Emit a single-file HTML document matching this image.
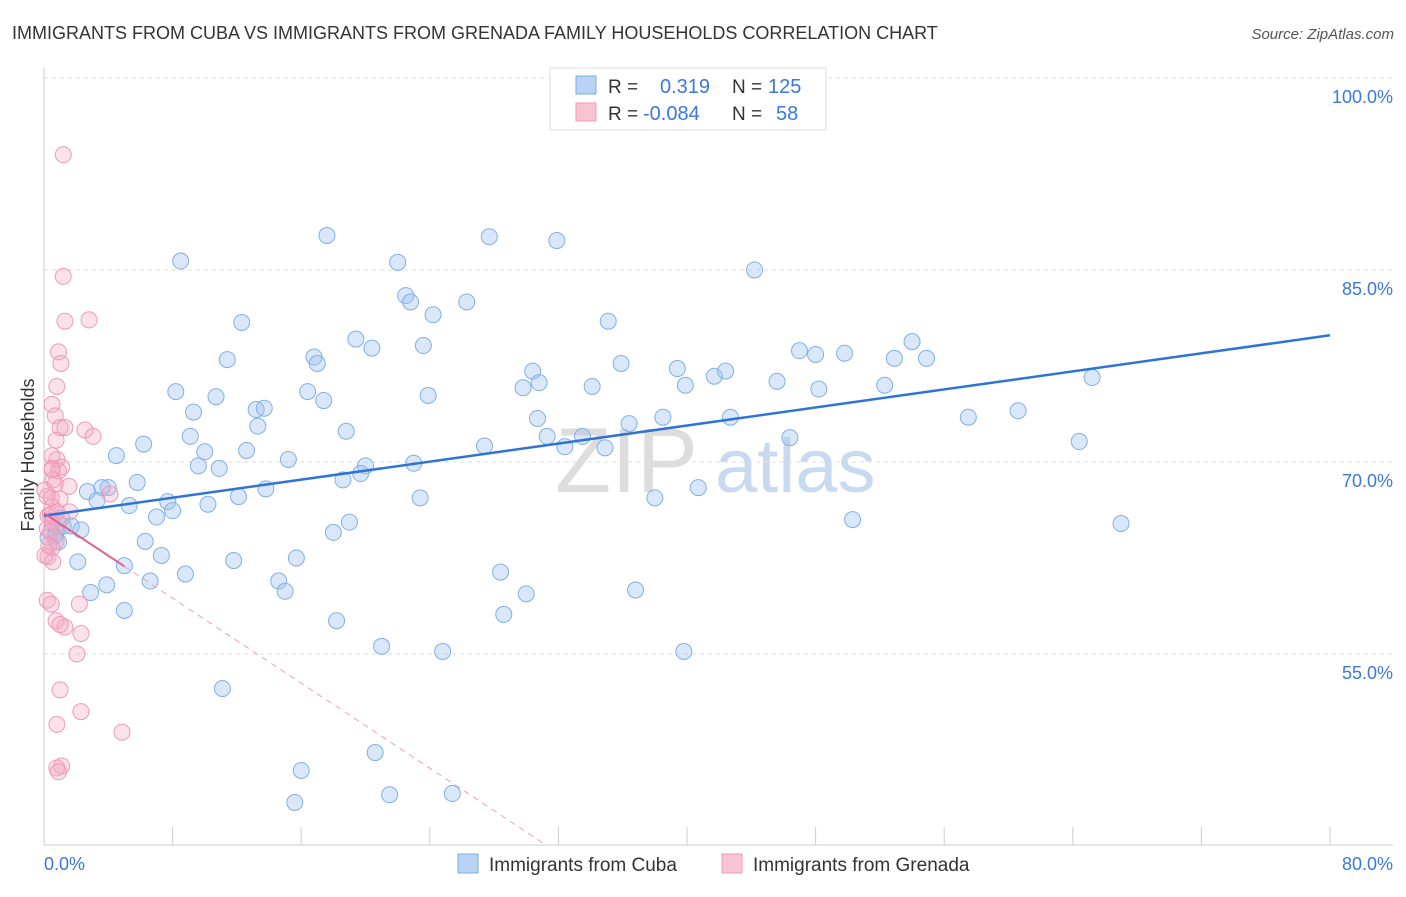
<!DOCTYPE html>
<html><head><meta charset="utf-8"><style>
body{margin:0;background:#fff;font-family:"Liberation Sans",sans-serif;}
svg text{font-family:"Liberation Sans",sans-serif;}
</style></head><body>
<svg id="chart" width="1406" height="892" viewBox="0 0 1406 892">
<text x="12" y="39" font-size="18" fill="#333">IMMIGRANTS FROM CUBA VS IMMIGRANTS FROM GRENADA FAMILY HOUSEHOLDS CORRELATION CHART</text>
<text x="1394" y="39" font-size="15" fill="#555" text-anchor="end" font-style="italic">Source: ZipAtlas.com</text>
<g>
<text x="555" y="492" font-size="92" fill="#ddd" font-family="Liberation Serif">ZIP</text>
<text x="715" y="492" font-size="76" fill="#c8daf0">atlas</text>
</g>
<g id="grid"></g>
<g id="axes"></g>
<text x="34" y="455" font-size="18" fill="#333" transform="rotate(-90 34 455)" text-anchor="middle">Family Households</text>
<g id="pts"></g>
<g id="trends"></g>
<g>
<rect x="550" y="68" width="276" height="62" fill="#fff" stroke="#ddd"/>
<rect x="576" y="76" width="20" height="18" fill="#b8d3f3" stroke="#7baee6"/>
<rect x="576" y="103" width="20" height="18" fill="#f8c4d4" stroke="#ef9ab6"/>
<text x="608" y="93" font-size="19" fill="#333">R =</text>
<text x="660" y="93" font-size="20" fill="#3b78d8">0.319</text>
<text x="732" y="93" font-size="19" fill="#333">N =</text>
<text x="768" y="93" font-size="20" fill="#3b78d8">125</text>
<text x="608" y="120" font-size="19" fill="#333">R =</text>
<text x="643" y="120" font-size="20" fill="#3b78d8">-0.084</text>
<text x="732" y="120" font-size="19" fill="#333">N =</text>
<text x="776" y="120" font-size="20" fill="#3b78d8">58</text>
</g>
<g>
<rect x="458" y="854" width="20" height="19" fill="#b8d3f3" stroke="#7baee6"/>
<text x="489" y="871" font-size="19" fill="#333">Immigrants from Cuba</text>
<rect x="722" y="854" width="20" height="19" fill="#f8c4d4" stroke="#ef9ab6"/>
<text x="753" y="871" font-size="19" fill="#333">Immigrants from Grenada</text>
</g>
</svg>
<script>
const cubaX=[8.5,17.6,27.7,31.9,22.0,44.2,22.5,22.8,26.3,24.2,12.3,35.1,19.4,20.4,23.6,16.8,17.0,11.4,35.9,47.0,48.0,49.8,54.0,52.9,54.9,39.4,30.4,30.8,29.8,34.1,39.9,41.7,42.4,45.6,48.2,52.3,65.2,8.2,10.7,16.4,17.4,23.9,9.3,13.2,13.7,13.3,30.7,36.4,38.5,42.7,57.5,60.6,9.1,10.0,12.6,18.8,27.4,31.3,32.4,33.5,34.9,46.4,64.4,6.2,4.5,9.6,10.9,15.2,20.0,19.7,18.6,23.0,4.0,5.8,3.6,2.7,3.3,5.3,7.7,12.1,13.8,10.2,23.4,38.0,40.7,7.0,8.0,19.0,18.0,50.3,67.0,1.1,1.2,1.7,0.7,0.9,2.3,6.3,7.3,5.0,2.1,11.8,15.7,8.8,6.6,14.6,15.0,3.9,2.9,28.4,30.0,36.8,5.0,18.2,28.6,21.0,24.8,39.8,11.1,20.6,16.0,15.6,21.5,25.4,0.25,0.5,0.75];
const cubaY=[85.7,87.7,87.6,87.3,85.6,85.0,83.0,82.5,82.5,81.5,80.9,81.0,79.6,78.9,79.1,78.2,77.7,78.0,77.7,78.7,78.4,78.5,79.4,78.1,78.1,77.3,77.1,76.2,75.8,75.9,76.0,76.7,77.1,76.3,75.7,76.0,76.6,75.5,75.1,75.5,74.8,75.2,73.9,74.1,74.2,72.8,73.4,73.0,73.5,73.5,73.5,74.0,72.0,70.8,70.9,72.4,71.25,72.0,71.2,72.0,71.1,71.9,71.6,71.4,70.5,69.7,69.5,70.2,69.7,69.1,68.6,69.9,68.0,68.4,68.0,67.7,67.0,66.6,66.9,67.3,67.9,66.7,67.2,67.2,68.0,65.7,66.2,65.3,64.5,65.5,65.2,65.6,65.0,65.0,64.2,63.75,64.7,63.8,62.7,61.9,62.2,62.3,62.5,61.25,60.7,60.7,59.9,60.4,59.8,61.4,59.7,60.0,58.4,57.6,58.1,55.6,55.2,55.2,52.3,47.3,45.9,43.4,44.0,44.1,64.1,65.2,64.5];
const grenX=[1.2,1.2,1.3,2.8,0.9,1.05,0.8,0.5,0.7,1.0,1.3,2.55,3.05,0.75,0.5,0.8,1.1,0.5,0.9,0.55,0.7,1.55,4.1,0.2,0.45,1.0,0.5,0.8,1.6,0.25,0.5,0.9,0.2,0.4,0.75,0.5,0.25,0.55,0.2,0.45,2.2,0.75,1.3,1.0,2.3,2.05,1.0,2.3,0.8,4.85,0.8,1.1,0.9,0.06,0.3,0.5,0.05,0.4];
const grenY=[94.0,84.5,81.0,81.1,78.6,77.7,75.9,74.5,73.6,72.7,72.7,72.5,72.0,71.7,70.5,70.2,69.6,69.5,69.3,68.6,68.3,68.1,67.5,67.3,67.2,67.1,66.5,66.1,66.1,65.8,65.4,65.2,64.8,64.5,63.8,63.3,62.6,62.2,59.2,58.9,58.9,57.6,57.1,57.3,56.6,55.0,52.2,50.5,49.5,48.9,46.1,46.25,45.8,62.7,63.5,69.4,67.8,65.9];
const yTicks=[100,85,70,55];
const yTickLabels=["100.0%","85.0%","70.0%","55.0%"];
const xTicks=[0,8,16,24,32,40,48,56,64,72,80];
const xLabels=["0.0%","80.0%"];
const cubaTrend=[65.8,79.9];   // y at x=0 and x=80
const grenTrend=[66.0,-0.83];  // intercept, slope
const grenSolidEnd=5.0;

const NS="http://www.w3.org/2000/svg";
const X=v=>44+v*1286/80;
const Y=v=>78+(100-v)*12.8;
function mk(tag,attrs,parent){const e=document.createElementNS(NS,tag);for(const k in attrs)e.setAttribute(k,attrs[k]);parent.appendChild(e);return e;}
const grid=document.getElementById('grid'),axes=document.getElementById('axes'),pts=document.getElementById('pts'),tr=document.getElementById('trends');
yTicks.forEach((t,i)=>{
 const l=mk('line',{x1:44,x2:1393,y1:Y(t),y2:Y(t),stroke:'#ddd','stroke-dasharray':'4,4'},grid);
 
 
 const tx=mk('text',{x:1393,y:Y(t)+25,'font-size':18,fill:'#3b78d8','text-anchor':'end'},axes);
 tx.textContent=yTickLabels[i];
 
 
});
const ya=mk('line',{x1:44,x2:44,y1:68,y2:845,stroke:'#ccc'},axes);


const xa=mk('line',{x1:44,x2:1393,y1:845,y2:845,stroke:'#ccc'},axes);


xTicks.forEach(t=>{
 const l=mk('line',{x1:X(t),x2:X(t),y1:827,y2:845,stroke:'#ccc'},axes);
 
 
});
const xl0=mk('text',{x:44,y:870,'font-size':18,fill:'#3b78d8'},axes);
xl0.textContent=xLabels[0];


const xl1=mk('text',{x:1393,y:870,'font-size':18,fill:'#3b78d8','text-anchor':'end'},axes);
xl1.textContent=xLabels[1];


cubaX.forEach((v,i)=>{
 const c=mk('circle',{cx:X(v),cy:Y(cubaY[i]),r:8,fill:'rgba(160,196,240,0.4)',stroke:'#80b0e6','stroke-width':1},pts);
 
 
});
grenX.forEach((v,i)=>{
 const c=mk('circle',{cx:X(v),cy:Y(grenY[i]),r:8,fill:'rgba(244,170,195,0.35)',stroke:'#ef9ab6','stroke-width':1},pts);
 
 
});
const bl=mk('line',{x1:X(0),y1:Y(cubaTrend[0]),x2:X(80),y2:Y(cubaTrend[1]),stroke:'#2f73d6','stroke-width':2.5},tr);


const gy=x=>grenTrend[0]+grenTrend[1]*x;
const xEnd=(40.08-grenTrend[0])/grenTrend[1];
const pd=mk('line',{x1:X(grenSolidEnd),y1:Y(gy(grenSolidEnd)),x2:X(xEnd),y2:Y(gy(xEnd)),stroke:'#eba0b8','stroke-width':1,'stroke-dasharray':'6,5'},tr);


const ps=mk('line',{x1:X(0),y1:Y(gy(0)),x2:X(grenSolidEnd),y2:Y(gy(grenSolidEnd)),stroke:'#e0608a','stroke-width':2},tr);


</script>
</body></html>
